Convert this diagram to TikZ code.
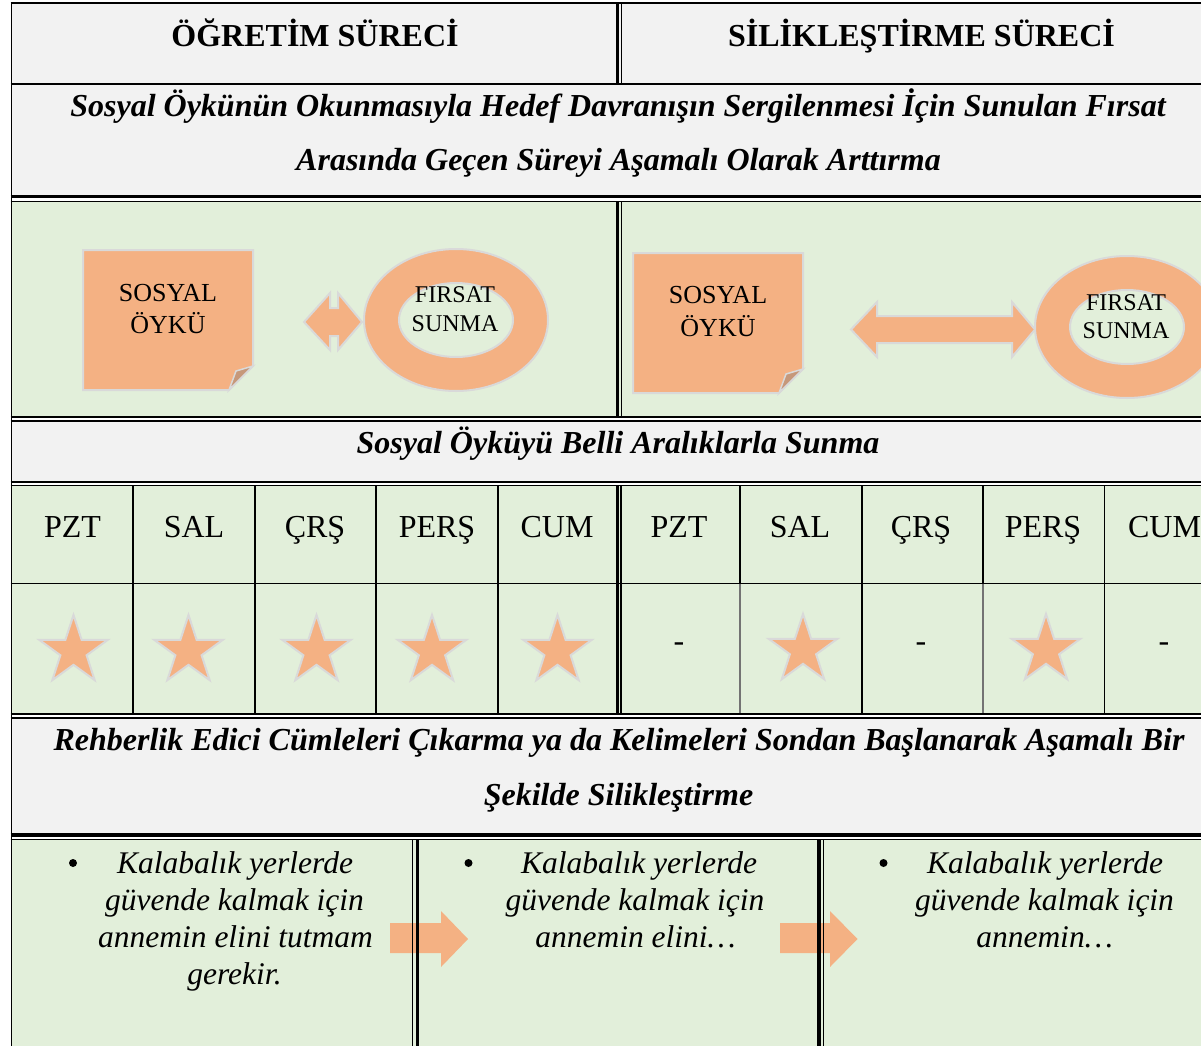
\documentclass[tikz,border=0pt]{standalone}
\usepackage{fontspec}
\setmainfont{Liberation Serif}
\definecolor{hdrgray}{HTML}{F2F2F2}
\definecolor{cellgreen}{HTML}{E2EFDA}
\definecolor{peach}{HTML}{F4B183}
\definecolor{edgegray}{HTML}{D9D9D9}
\definecolor{foldbrown}{HTML}{C6987A}
\tikzset{
  txt/.style={font=\fontsize{32}{37}\selectfont, inner sep=0pt, anchor=base},
  hdr/.style={font=\fontsize{32}{37}\selectfont\bfseries, inner sep=0pt, anchor=base},
  ttl/.style={font=\fontsize{32}{37}\selectfont\bfseries\itshape, inner sep=0pt, anchor=base},
  itx/.style={font=\fontsize{31.5}{37}\selectfont\itshape, inner sep=0pt, anchor=base},
  shapetxt/.style={font=\fontsize{26}{32}\selectfont, inner sep=0pt, anchor=base},
  ringtxt/.style={font=\fontsize{24}{29}\selectfont, inner sep=0pt, anchor=base},
  shapefill/.style={fill=peach, draw=edgegray, line width=2pt, line join=miter},
  blockarrow/.style={fill=peach},
  rule/.style={draw=black, line width=1.5pt},
  thickrule/.style={draw=black, line width=3pt},
  thinrule/.style={draw=black, line width=1.2pt},
  softrule/.style={draw=black!55, line width=1.2pt},
  bulletdot/.style={circle, fill=black, inner sep=0pt, minimum size=8pt},
}
\newcommand{\starmark}[2]{%
  \draw[shapefill, shift={(#1,#2)}] (270:36) -- (306:13.8) -- (342:36) -- (18:13.8) -- (54:36) -- (90:13.8) -- (126:36) -- (162:13.8) -- (198:36) -- (234:13.8) -- cycle;}
\begin{document}
\begin{tikzpicture}[x=1pt,y=-1pt]
\useasboundingbox (0,0) rectangle (1201,1046);
\clip (0,0) rectangle (1201,1046);
\fill[white] (0,0) rectangle (1201,1046);
% cell backgrounds
\fill[hdrgray] (11,3) rectangle (1201,196);
\fill[cellgreen] (12,202) rectangle (1201,417);
\fill[hdrgray] (12,421) rectangle (1201,482);
\fill[cellgreen] (12,486) rectangle (1201,714);
\fill[hdrgray] (12,718) rectangle (1201,835);
\fill[cellgreen] (12,839) rectangle (1201,1046);

% ---- row 3 shapes (left)
\draw[shapefill] (83,250) -- (253,250) -- (253,366) -- (229,390) -- (83,390) -- cycle;
\draw[fill=foldbrown, draw=edgegray, line width=1.5pt] (229,390) -- (236,371) -- (253,366) -- cycle;
\draw[shapefill] (304,322) -- (330,293) -- (330,308) -- (338,308) -- (338,293) -- (362,322) -- (338,350) -- (338,336) -- (330,336) -- (330,350) -- cycle;
\path[fill=peach, even odd rule] (456,320) ellipse [x radius=92, y radius=71] (456,320) ellipse [x radius=57, y radius=37];
\draw[edgegray, line width=2pt] (456,320) ellipse [x radius=92, y radius=71];
\draw[edgegray, line width=2pt] (456,320) ellipse [x radius=57, y radius=37];
% ---- row 3 shapes (right)
\draw[shapefill] (633,253) -- (803,253) -- (803,369) -- (779,393) -- (633,393) -- cycle;
\draw[fill=foldbrown, draw=edgegray, line width=1.5pt] (779,393) -- (786,374) -- (803,369) -- cycle;
\draw[shapefill] (851,329.5) -- (877,302) -- (877,316) -- (1012,316) -- (1012,302) -- (1035,329.5) -- (1012,357) -- (1012,343) -- (877,343) -- (877,357) -- cycle;
\path[fill=peach, even odd rule] (1127,327) ellipse [x radius=92, y radius=71] (1127,327) ellipse [x radius=57, y radius=37];
\draw[edgegray, line width=2pt] (1127,327) ellipse [x radius=92, y radius=71];
\draw[edgegray, line width=2pt] (1127,327) ellipse [x radius=57, y radius=37];

% ---- stars
\starmark{73.5}{651}
\starmark{188.5}{651}
\starmark{316.5}{651}
\starmark{432}{651}
\starmark{557.5}{651}
\starmark{803}{650}
\starmark{1046}{650}

% ---- bottom block arrows
\fill[blockarrow] (390,923) -- (441,923) -- (441,911) -- (468,939) -- (441,967) -- (441,953) -- (390,953) -- cycle;
\fill[blockarrow] (780,923) -- (830,923) -- (830,911) -- (857.5,939) -- (830,967) -- (830,953) -- (780,953) -- cycle;

% ---- grid lines
\draw[rule] (10.5,3) -- (1201,3);
\draw[rule] (11.5,3) -- (11.5,1046);
\draw[rule] (10.5,84) -- (1201,84);
\draw[thickrule] (617.5,3) -- (617.5,84);
\draw[thinrule] (621.5,3) -- (621.5,84);
\draw[draw=black, line width=2.5pt] (10.5,196.5) -- (1201,196.5);
\draw[thinrule] (10.5,201.5) -- (1201,201.5);
\draw[thickrule] (617.5,201.5) -- (617.5,417);
\draw[thinrule] (621.5,201.5) -- (621.5,417);
\draw[draw=black, line width=2pt] (10.5,417) -- (1201,417);
\draw[draw=black, line width=2pt] (10.5,421) -- (1201,421);
\draw[rule] (10.5,482) -- (1201,482);
\draw[rule] (10.5,485.5) -- (1201,485.5);
\draw[rule] (10.5,583.5) -- (1201,583.5);
\foreach \cx in {133,255,376,498,862,1104.5} {\draw[rule] (\cx,485.5) -- (\cx,714);}
\foreach \cx in {740,983} {\draw[rule] (\cx,485.5) -- (\cx,583.5); \draw[softrule] (\cx,583.5) -- (\cx,714);}
\draw[thickrule] (617,485.5) -- (617,714);
\draw[thinrule] (621,485.5) -- (621,714);
\draw[draw=black, line width=2pt] (10.5,714) -- (1201,714);
\draw[rule] (10.5,718) -- (1201,718);
\draw[draw=black, line width=4pt] (10.5,835) -- (1201,835);
\draw[thinrule] (10.5,839.5) -- (1201,839.5);
\draw[rule] (412.5,839.5) -- (412.5,1046);
\draw[draw=black, line width=2.5pt] (417.5,839.5) -- (417.5,1046);
\draw[draw=black, line width=4pt] (819,839.5) -- (819,1046);
\draw[thinrule] (823.5,839.5) -- (823.5,1046);

% ---- texts
\node[hdr] (h1) at (315,47) {ÖĞRETİM SÜRECİ};
\node[hdr] (h2) at (921.5,47) {SİLİKLEŞTİRME SÜRECİ};
\node[ttl] (t1a) at (618,116.5) {Sosyal Öykünün Okunmasıyla Hedef Davranışın Sergilenmesi İçin Sunulan Fırsat};
\node[ttl] (t1b) at (618.5,170.5) {Arasında Geçen Süreyi Aşamalı Olarak Arttırma};
\node[shapetxt] (ls1) at (168,301) {SOSYAL};
\node[shapetxt] (ls2) at (168,333) {ÖYKÜ};
\node[ringtxt] (lr1) at (455,302) {FIRSAT};
\node[ringtxt] (lr2) at (455,331) {SUNMA};
\node[shapetxt] (rs1) at (718,303) {SOSYAL};
\node[shapetxt] (rs2) at (718,336) {ÖYKÜ};
\node[ringtxt] (rr1) at (1126,310) {FIRSAT};
\node[ringtxt] (rr2) at (1126,338) {SUNMA};
\node[ttl] (t2) at (618,453.5) {Sosyal Öyküyü Belli Aralıklarla Sunma};
% days
\node[txt] (d1) at (72.5,537) {PZT};
\node[txt] (d2) at (194,537) {SAL};
\node[txt] (d3) at (315,537) {ÇRŞ};
\node[txt] (d4) at (437,537) {PERŞ};
\node[txt] (d5) at (557,537) {CUM};
\node[txt] (d6) at (679,537) {PZT};
\node[txt] (d7) at (800,537) {SAL};
\node[txt] (d8) at (921,537) {ÇRŞ};
\node[txt] (d9) at (1043,537) {PERŞ};
\node[txt] (d10) at (1164.5,537) {CUM};
\node[txt] (m1) at (679,651) {-};
\node[txt] (m2) at (921,651) {-};
\node[txt] (m3) at (1164,651) {-};
\node[ttl] (t3a) at (619,750) {Rehberlik Edici Cümleleri Çıkarma ya da Kelimeleri Sondan Başlanarak Aşamalı Bir};
\node[ttl] (t3b) at (618.5,805) {Şekilde Silikleştirme};
% bottom cells
\node[bulletdot] (b1) at (73,863) {};
\node[itx] (c1a) at (235,873) {Kalabalık yerlerde};
\node[itx] (c1b) at (234.5,910) {güvende kalmak için};
\node[itx] (c1c) at (235.5,947) {annemin elini tutmam};
\node[itx] (c1d) at (234.5,984) {gerekir.};
\node[bulletdot] (b2) at (468.5,863) {};
\node[itx] (c2a) at (639,873) {Kalabalık yerlerde};
\node[itx] (c2b) at (635,910) {güvende kalmak için};
\node[itx] (c2c) at (635.5,947) {annemin elini…};
\node[bulletdot] (b3) at (883.5,863) {};
\node[itx] (c3a) at (1045,873) {Kalabalık yerlerde};
\node[itx] (c3b) at (1044.5,910) {güvende kalmak için};
\node[itx] (c3c) at (1044.5,947) {annemin…};
\end{tikzpicture}
\end{document}
